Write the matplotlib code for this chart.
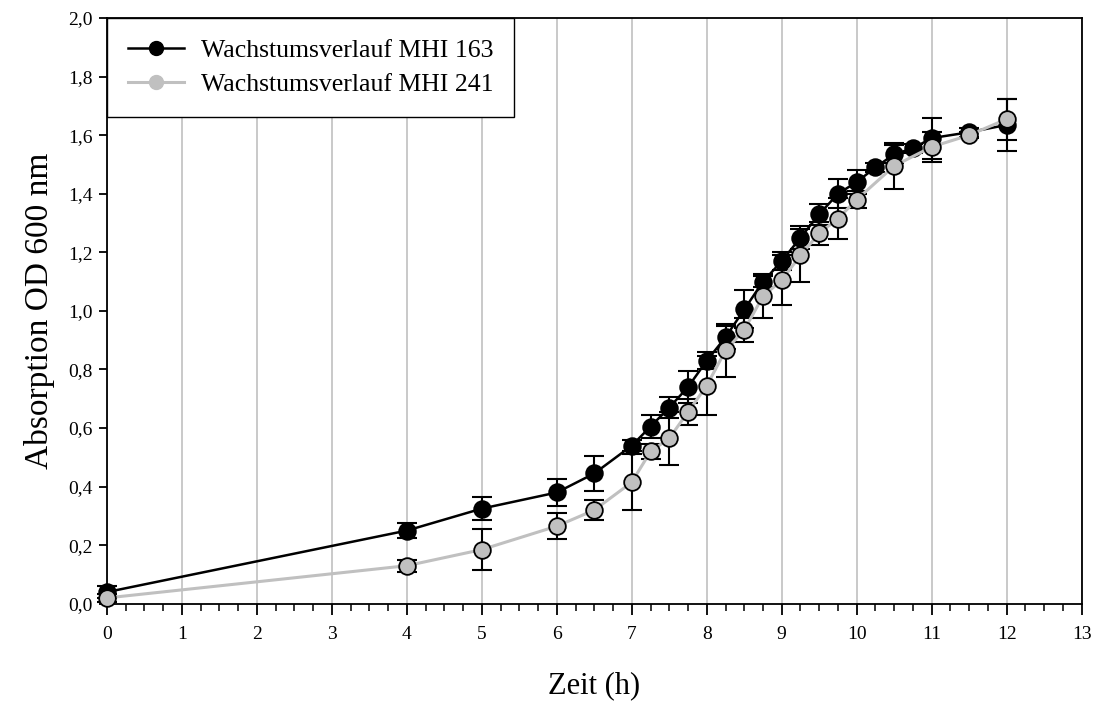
import matplotlib
matplotlib.use("Agg")
import matplotlib.pyplot as plt
from matplotlib.ticker import MultipleLocator, FuncFormatter

zeit_163 = [0, 4, 5, 6, 6.5, 7, 7.25, 7.5, 7.75, 8, 8.25, 8.5, 8.75, 9, 9.25,
            9.5, 9.75, 10, 10.25, 10.5, 10.75, 11, 11.5, 12]
od_163 = [0.04, 0.25, 0.325, 0.38, 0.445, 0.54, 0.605, 0.67, 0.74, 0.83, 0.91,
          1.005, 1.10, 1.17, 1.25, 1.33, 1.40, 1.44, 1.49, 1.535, 1.555, 1.59,
          1.61, 1.635]
err_163 = [0.02, 0.025, 0.04, 0.045, 0.06, 0.02, 0.04, 0.035, 0.055, 0.03, 0.04,
           0.065, 0.02, 0.03, 0.04, 0.035, 0.05, 0.04, 0.015, 0.03, 0.015, 0.07,
           0.015, 0.09]

zeit_241 = [0, 4, 5, 6, 6.5, 7, 7.25, 7.5, 7.75, 8, 8.25, 8.5, 8.75, 9, 9.25,
            9.5, 9.75, 10, 10.5, 11, 11.5, 12]
od_241 = [0.02, 0.13, 0.185, 0.265, 0.32, 0.415, 0.52, 0.565, 0.655, 0.745,
          0.865, 0.935, 1.05, 1.105, 1.19, 1.265, 1.315, 1.38, 1.495, 1.56,
          1.60, 1.655]
err_241 = [0.015, 0.02, 0.07, 0.045, 0.035, 0.095, 0.025, 0.09, 0.045, 0.1,
           0.09, 0.04, 0.075, 0.085, 0.09, 0.04, 0.07, 0.03, 0.08, 0.05, 0.01,
           0.07]

plt.rcParams['font.family'] = ['Liberation Serif', 'DejaVu Serif']

fig = plt.figure(figsize=(10.97, 7.07), dpi=100)
ax = fig.add_axes([0.0975, 0.146, 0.8885, 0.8285])

grau = '#c0c0c0'

for x, y, e in [(zeit_163, od_163, err_163), (zeit_241, od_241, err_241)]:
    eb = ax.errorbar(x, y, yerr=e, fmt='none', ecolor='black',
                     elinewidth=1.5, capsize=7, capthick=1.5, zorder=3)
    for art in eb.lines[1] + eb.lines[2]:
        art.set_clip_on(False)

ax.plot(zeit_163, od_163, color='black', lw=1.8, zorder=4, clip_on=False)
ax.plot(zeit_163, od_163, 'o', ms=12, mfc='black', mec='black', mew=1.3,
        zorder=5, clip_on=False)
ax.plot(zeit_241, od_241, color=grau, lw=2.2, zorder=6, clip_on=False)
ax.plot(zeit_241, od_241, 'o', ms=12, mfc=grau, mec='black', mew=1.3,
        zorder=7, clip_on=False)

# Legende
h1, = ax.plot([], [], '-o', color='black', lw=1.8, ms=10)
h2, = ax.plot([], [], '-o', color=grau, lw=2.2, ms=10)
leg = ax.legend([h1, h2], ['Wachstumsverlauf MHI 163', 'Wachstumsverlauf MHI 241'],
                loc='upper left', borderaxespad=0, fontsize=18.5, fancybox=False,
                framealpha=1, edgecolor='black', handlelength=2.2,
                borderpad=0.8, labelspacing=0.45, handletextpad=0.65)
leg.get_frame().set_linewidth(1.0)
leg.set_zorder(10)

ax.set_xlim(0, 13)
ax.set_ylim(0, 2.0)
ax.xaxis.set_major_locator(MultipleLocator(1))
ax.xaxis.set_minor_locator(MultipleLocator(0.25))
ax.yaxis.set_major_locator(MultipleLocator(0.2))
ax.yaxis.set_major_formatter(FuncFormatter(lambda v, p: f'{v:.1f}'.replace('.', ',')))

ax.grid(axis='x', color=grau, lw=1.2, zorder=0)
ax.set_axisbelow(True)

ax.tick_params(axis='both', which='major', direction='out', width=1.3,
               labelsize=14)
ax.tick_params(axis='x', which='major', length=8, pad=8)
ax.tick_params(axis='x', which='minor', length=5, width=1.1, direction='out')
ax.tick_params(axis='y', which='major', length=6, pad=4)

for s in ax.spines.values():
    s.set_linewidth(1.3)

ax.set_xlabel('Zeit (h)', fontsize=22, labelpad=20)
ax.set_ylabel('Absorption OD 600 nm', fontsize=24, labelpad=10)

fig.savefig('out.png', dpi=100)
